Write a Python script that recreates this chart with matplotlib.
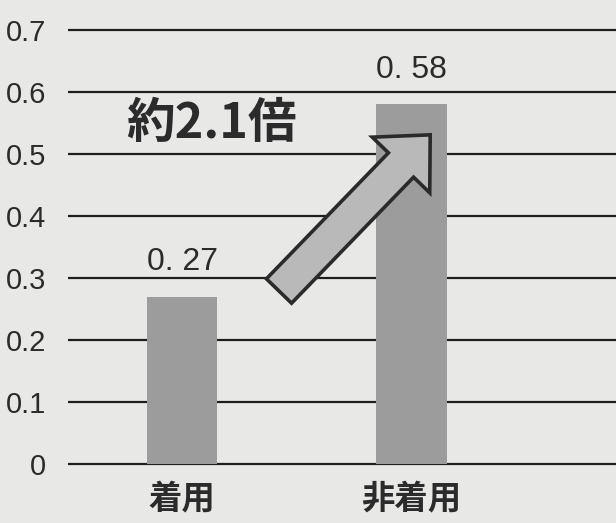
import matplotlib
matplotlib.use("Agg")
import matplotlib.pyplot as plt
import matplotlib.transforms as mtransforms
from matplotlib.patches import FancyArrow

categories = ["着用", "非着用"]
values = [0.27, 0.58]
value_labels = ["0. 27", "0. 58"]
yticks = [0, 0.1, 0.2, 0.3, 0.4, 0.5, 0.6, 0.7]
ytick_labels = ["0", "0.1", "0.2", "0.3", "0.4", "0.5", "0.6", "0.7"]
ratio_text = "約2.1倍"

W, H = 616, 523
bg = "#e8e8e6"
ink = "#2b2b2b"
bar_color = "#9c9c9c"

num_font = ["Liberation Sans"]
cjk_font = ["Noto Sans CJK JP", "DejaVu Sans"]

fig = plt.figure(figsize=(W / 100, H / 100), dpi=100, facecolor=bg)
ax = fig.add_axes([68 / W, (H - 467.0) / H, 1 - 68 / W, (467.0 - 27.0) / H])
ax.set_facecolor(bg)

x = list(range(len(categories)))
ax.set_xlim(-0.497, 1.891)
ax.set_ylim(-0.005, 0.705)

ax.set_yticks(yticks)
ax.set_yticklabels(ytick_labels, family=num_font, fontsize=21, color=ink)
ax.tick_params(axis="y", length=0, pad=16)
ax.set_xticks(x)
ax.set_xticklabels(categories, family=cjk_font, fontsize=24, fontweight="bold", color=ink)
ax.tick_params(axis="x", length=0, pad=12)

for s in ax.spines.values():
    s.set_visible(False)
for t in yticks:
    ax.axhline(t, color="#1e1e1e", lw=1.6, zorder=1)

bars = ax.bar(x, values, width=0.306, color=bar_color, zorder=2)
for xi, v, lab in zip(x, values, value_labels):
    ax.annotate(lab, (xi, v), xytext=(0, 14), textcoords="offset points",
                ha="center", va="bottom", family=num_font, fontsize=23, color=ink)

# pixel coordinate transform (origin top-left)
px = mtransforms.Affine2D().scale(1, -1).translate(0, H)

arrow = FancyArrow(279, 291, 122, -126, width=35, head_width=80, head_length=42,
                   length_includes_head=False, transform=px,
                   facecolor="#b9b9b9", edgecolor="#2a2a2a", linewidth=2.6, zorder=5)
fig.add_artist(arrow)

fig.text(212, 123, ratio_text, transform=px, ha="center", va="center",
         family=cjk_font, fontsize=35, fontweight="bold", color=ink)

fig.savefig("out.png", dpi=100, facecolor=bg)
